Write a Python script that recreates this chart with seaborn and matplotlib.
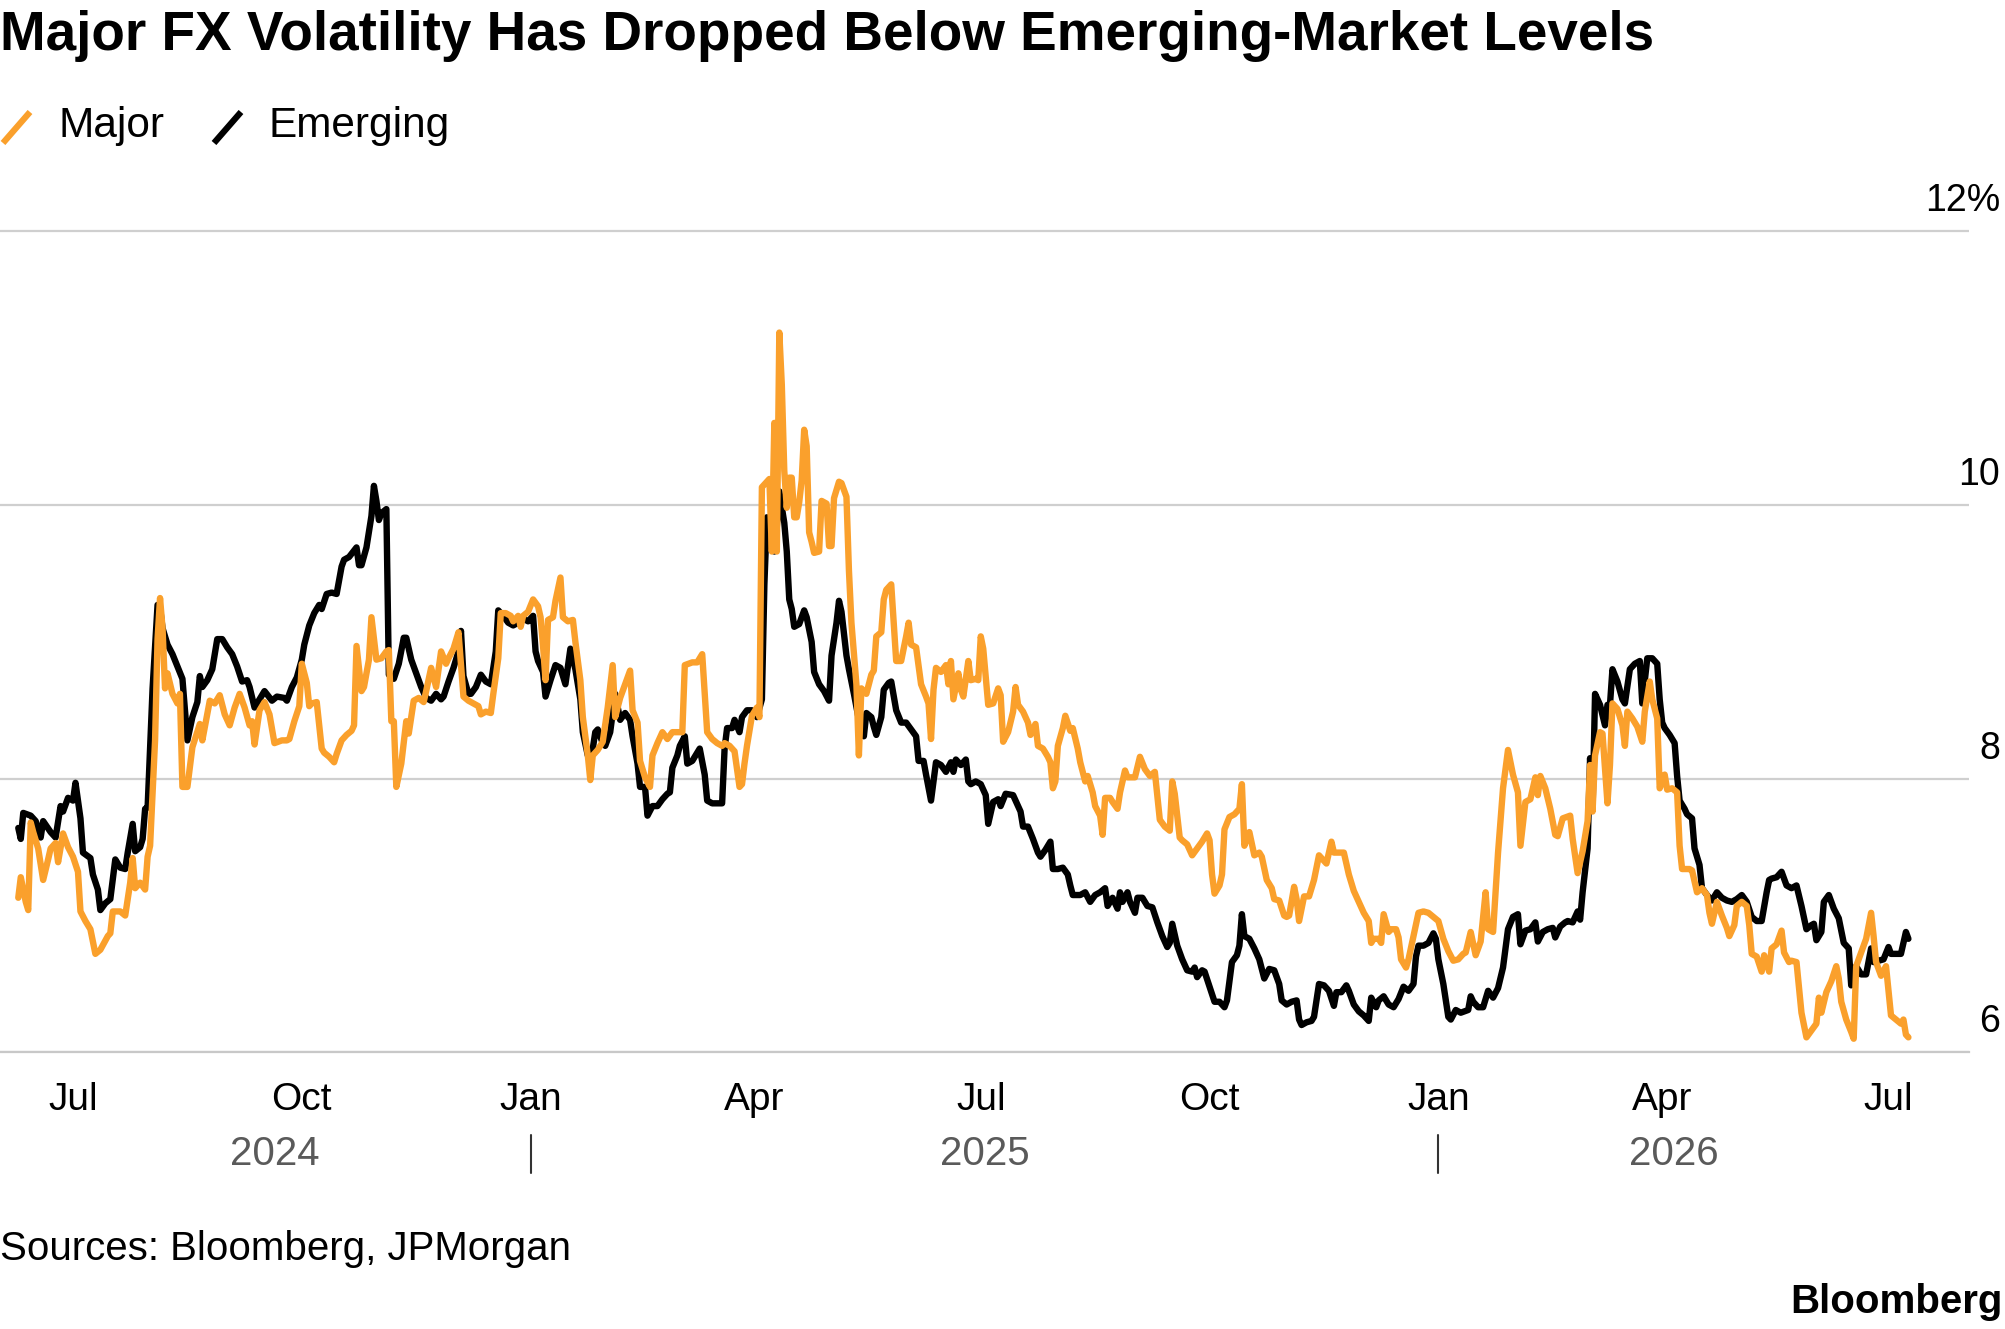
import pandas as pd
import matplotlib
matplotlib.use("Agg")
import matplotlib.pyplot as plt
import matplotlib.dates as mdates
import matplotlib.transforms as mtransforms
from matplotlib.lines import Line2D
import seaborn as sns

# FX implied volatility, %
# (day counted from 2024-07-01, value)
emerging = [
    (-22, 7.64), (-21, 7.56), (-20, 7.75), (-17, 7.73), (-15, 7.69), (-13, 7.57), (-12, 7.69), (-9, 7.61),
    (-7, 7.57), (-5, 7.80), (-4, 7.76), (-2, 7.86), (0, 7.84), (1, 7.97), (3, 7.71), (4, 7.46),
    (7, 7.42), (8, 7.30), (10, 7.19), (11, 7.04), (13, 7.09), (15, 7.12), (17, 7.41), (19, 7.35),
    (21, 7.34), (22, 7.46), (24, 7.67), (25, 7.47), (27, 7.50), (28, 7.56), (29, 7.78), (30, 7.79),
    (32, 8.66), (34, 9.27), (35, 9.25), (36, 9.10), (38, 8.98), (40, 8.91), (42, 8.82), (44, 8.73),
    (45, 8.50), (46, 8.28), (48, 8.45), (50, 8.56), (51, 8.75), (52, 8.67), (54, 8.72), (56, 8.80),
    (58, 9.02), (60, 9.02), (62, 8.96), (64, 8.91), (66, 8.82), (68, 8.71), (70, 8.72), (71, 8.67),
    (73, 8.52), (75, 8.58), (77, 8.64), (80, 8.57), (82, 8.60), (85, 8.59), (86, 8.57), (88, 8.67),
    (90, 8.74), (92, 8.87), (93, 8.98), (95, 9.12), (97, 9.21), (99, 9.27), (100, 9.24), (102, 9.35),
    (104, 9.36), (106, 9.35), (108, 9.55), (109, 9.60), (111, 9.62), (114, 9.69), (115, 9.56), (116, 9.56),
    (118, 9.69), (120, 9.92), (121, 10.14), (122, 10.03), (123, 9.89), (124, 9.94), (126, 9.97), (127, 8.76),
    (129, 8.73), (131, 8.84), (133, 9.03), (134, 9.03), (136, 8.87), (138, 8.77), (140, 8.67), (142, 8.59),
    (144, 8.57), (146, 8.62), (148, 8.58), (149, 8.60), (151, 8.71), (153, 8.81), (155, 8.93), (156, 9.08),
    (157, 8.75), (159, 8.62), (160, 8.62), (162, 8.67), (164, 8.76), (166, 8.71), (168, 8.69), (170, 8.93),
    (171, 9.23), (173, 9.19), (175, 9.14), (177, 9.12), (179, 9.14), (181, 9.17), (183, 9.15), (185, 9.19),
    (186, 8.93), (187, 8.86), (189, 8.78), (190, 8.60), (192, 8.72), (194, 8.83), (196, 8.81), (198, 8.69),
    (200, 8.95), (202, 8.80), (204, 8.58), (205, 8.34), (207, 8.17), (209, 8.22), (210, 8.34), (211, 8.36),
    (213, 8.26), (214, 8.24), (216, 8.34), (218, 8.62), (220, 8.43), (222, 8.48), (224, 8.43), (225, 8.31),
    (227, 8.11), (228, 7.94), (230, 7.94), (231, 7.73), (233, 7.80), (235, 7.80), (237, 7.85), (239, 7.89),
    (240, 7.90), (241, 8.08), (243, 8.17), (244, 8.24), (246, 8.31), (247, 8.11), (249, 8.13), (251, 8.19),
    (252, 8.22), (254, 8.03), (255, 7.84), (257, 7.82), (259, 7.82), (261, 7.82), (262, 8.22), (263, 8.37),
    (265, 8.37), (266, 8.43), (268, 8.34), (269, 8.45), (271, 8.50), (273, 8.50), (275, 8.45), (277, 8.58),
    (278, 9.42), (279, 9.91), (280, 9.70), (281, 9.89), (282, 9.66), (283, 9.84), (284, 10.10), (286, 9.87),
    (287, 9.66), (288, 9.31), (289, 9.24), (290, 9.11), (292, 9.13), (294, 9.23), (295, 9.18), (297, 9.00),
    (298, 8.78), (300, 8.69), (302, 8.64), (304, 8.57), (305, 8.90), (307, 9.14), (308, 9.30), (309, 9.22),
    (311, 8.90), (312, 8.80), (314, 8.62), (316, 8.43), (318, 8.31), (319, 8.48), (321, 8.45), (322, 8.38),
    (323, 8.32), (325, 8.45), (326, 8.65), (328, 8.70), (329, 8.71), (331, 8.50), (333, 8.41), (335, 8.41),
    (337, 8.36), (339, 8.31), (340, 8.13), (342, 8.13), (343, 8.03), (345, 7.84), (347, 8.12), (349, 8.10),
    (351, 8.05), (353, 8.12), (354, 8.05), (355, 8.14), (357, 8.10), (359, 8.14), (360, 7.98), (361, 7.96),
    (363, 7.98), (365, 7.96), (367, 7.88), (368, 7.67), (370, 7.83), (372, 7.85), (373, 7.80), (375, 7.89),
    (378, 7.88), (380, 7.80), (381, 7.76), (382, 7.65), (384, 7.65), (386, 7.56), (388, 7.46), (389, 7.43),
    (391, 7.48), (393, 7.54), (394, 7.34), (396, 7.34), (398, 7.35), (400, 7.30), (401, 7.22), (402, 7.15),
    (405, 7.15), (407, 7.17), (409, 7.10), (411, 7.15), (413, 7.17), (415, 7.20), (416, 7.07), (418, 7.13),
    (420, 7.05), (421, 7.17), (422, 7.10), (424, 7.17), (425, 7.10), (427, 7.02), (428, 7.13), (430, 7.13),
    (432, 7.07), (434, 7.06), (436, 6.95), (438, 6.85), (440, 6.77), (441, 6.80), (442, 6.94), (444, 6.78),
    (446, 6.68), (448, 6.60), (450, 6.59), (451, 6.62), (452, 6.55), (454, 6.60), (455, 6.59), (457, 6.48),
    (459, 6.37), (461, 6.37), (463, 6.33), (464, 6.38), (466, 6.66), (468, 6.71), (469, 6.78), (470, 7.01),
    (471, 6.85), (473, 6.83), (475, 6.76), (477, 6.68), (479, 6.54), (481, 6.61), (483, 6.60), (485, 6.50),
    (486, 6.38), (488, 6.35), (490, 6.37), (492, 6.38), (493, 6.24), (494, 6.20), (496, 6.22), (498, 6.23),
    (499, 6.26), (501, 6.50), (503, 6.49), (505, 6.45), (507, 6.34), (508, 6.44), (510, 6.44), (512, 6.49),
    (513, 6.45), (515, 6.35), (517, 6.30), (519, 6.27), (521, 6.23), (522, 6.40), (524, 6.33), (525, 6.38),
    (527, 6.41), (529, 6.35), (531, 6.33), (533, 6.39), (535, 6.48), (537, 6.45), (539, 6.50), (540, 6.70),
    (541, 6.78), (543, 6.78), (545, 6.80), (547, 6.87), (548, 6.83), (549, 6.68), (551, 6.50), (553, 6.26),
    (554, 6.24), (556, 6.31), (558, 6.29), (561, 6.31), (562, 6.41), (563, 6.37), (565, 6.33), (567, 6.33),
    (569, 6.45), (571, 6.40), (573, 6.47), (575, 6.62), (577, 6.90), (579, 6.99), (581, 7.01), (582, 6.79),
    (584, 6.89), (586, 6.90), (588, 6.95), (589, 6.81), (591, 6.88), (593, 6.90), (595, 6.91), (596, 6.84),
    (598, 6.92), (600, 6.95), (601, 6.96), (603, 6.95), (605, 7.03), (606, 6.97), (607, 7.17), (609, 7.49),
    (610, 8.15), (611, 7.77), (612, 8.62), (614, 8.54), (616, 8.39), (617, 8.54), (618, 8.54), (619, 8.80),
    (621, 8.71), (623, 8.58), (624, 8.55), (626, 8.80), (628, 8.84), (630, 8.86), (631, 8.55), (633, 8.88),
    (635, 8.88), (637, 8.84), (638, 8.58), (639, 8.41), (640, 8.37), (642, 8.32), (644, 8.26), (645, 8.02),
    (646, 7.84), (648, 7.78), (649, 7.74), (651, 7.71), (652, 7.49), (654, 7.37), (655, 7.20), (657, 7.15),
    (659, 7.11), (661, 7.17), (663, 7.13), (665, 7.11), (667, 7.10), (669, 7.12), (671, 7.15), (673, 7.10),
    (675, 6.99), (677, 6.96), (679, 6.96), (681, 7.17), (682, 7.26), (683, 7.27), (685, 7.28), (687, 7.32),
    (689, 7.22), (691, 7.20), (693, 7.22), (695, 7.07), (697, 6.90), (699, 6.93), (700, 6.94), (701, 6.82),
    (703, 6.88), (704, 7.10), (706, 7.15), (708, 7.05), (710, 6.98), (712, 6.80), (714, 6.76), (715, 6.49),
    (717, 6.63), (719, 6.57), (721, 6.57), (723, 6.76), (724, 6.66), (726, 6.67), (728, 6.68), (730, 6.77),
    (731, 6.72), (733, 6.72), (735, 6.72), (737, 6.88), (738, 6.83),
]

major = [
    (-22, 7.13), (-21, 7.28), (-19, 7.10), (-18, 7.04), (-17, 7.68), (-16, 7.61), (-14, 7.49), (-12, 7.26),
    (-10, 7.41), (-9, 7.49), (-7, 7.53), (-6, 7.39), (-4, 7.60), (-2, 7.50), (0, 7.43), (2, 7.32),
    (3, 7.03), (5, 6.96), (7, 6.90), (9, 6.72), (11, 6.75), (14, 6.85), (15, 6.87), (16, 7.03),
    (19, 7.03), (21, 7.00), (23, 7.24), (24, 7.42), (25, 7.20), (27, 7.24), (29, 7.19), (30, 7.43),
    (31, 7.51), (33, 8.28), (34, 9.02), (35, 9.32), (36, 9.10), (37, 8.66), (38, 8.77), (40, 8.62),
    (42, 8.55), (43, 8.62), (44, 7.94), (46, 7.94), (48, 8.23), (51, 8.40), (52, 8.28), (55, 8.57),
    (57, 8.55), (59, 8.61), (61, 8.47), (63, 8.39), (65, 8.52), (67, 8.62), (69, 8.52), (71, 8.39),
    (72, 8.42), (73, 8.25), (75, 8.50), (77, 8.56), (79, 8.47), (81, 8.26), (84, 8.28), (86, 8.28),
    (87, 8.29), (89, 8.42), (91, 8.53), (92, 8.84), (94, 8.70), (95, 8.53), (96, 8.55), (98, 8.56),
    (100, 8.22), (101, 8.19), (103, 8.16), (105, 8.12), (106, 8.18), (108, 8.28), (110, 8.32), (112, 8.35),
    (113, 8.39), (114, 8.97), (116, 8.64), (117, 8.67), (119, 8.87), (120, 9.18), (122, 8.87), (124, 8.88),
    (126, 8.93), (127, 8.94), (128, 8.42), (129, 8.42), (130, 7.94), (132, 8.11), (134, 8.42), (135, 8.33),
    (137, 8.57), (139, 8.59), (141, 8.56), (142, 8.64), (144, 8.81), (146, 8.67), (148, 8.93), (150, 8.84),
    (151, 8.88), (153, 8.95), (155, 9.07), (157, 8.60), (159, 8.57), (161, 8.55), (163, 8.53), (164, 8.47),
    (166, 8.49), (168, 8.48), (169, 8.62), (171, 8.88), (172, 9.21), (174, 9.21), (176, 9.19), (177, 9.15),
    (179, 9.19), (180, 9.11), (181, 9.19), (183, 9.22), (185, 9.31), (187, 9.26), (188, 9.18), (189, 8.97),
    (190, 8.72), (191, 9.16), (193, 9.18), (194, 9.30), (196, 9.47), (197, 9.18), (199, 9.15), (201, 9.16),
    (202, 9.00), (204, 8.72), (205, 8.45), (207, 8.17), (208, 7.99), (209, 8.17), (211, 8.21), (213, 8.27),
    (215, 8.52), (217, 8.83), (218, 8.45), (220, 8.59), (222, 8.69), (224, 8.79), (225, 8.50), (227, 8.41),
    (228, 8.13), (230, 8.01), (232, 7.94), (233, 8.17), (235, 8.26), (237, 8.34), (239, 8.29), (241, 8.34),
    (244, 8.34), (245, 8.34), (246, 8.83), (249, 8.85), (251, 8.85), (253, 8.91), (254, 8.62), (255, 8.34),
    (257, 8.29), (259, 8.26), (261, 8.24), (262, 8.26), (264, 8.24), (266, 8.20), (268, 7.94), (269, 7.96),
    (270, 8.11), (271, 8.24), (273, 8.46), (275, 8.52), (276, 8.45), (277, 10.13), (279, 10.17), (280, 10.19),
    (281, 9.66), (282, 10.60), (283, 9.66), (284, 11.26), (285, 10.88), (286, 10.25), (287, 9.98), (288, 10.20),
    (289, 10.20), (290, 9.91), (291, 9.91), (292, 10.02), (293, 10.18), (294, 10.55), (295, 10.43), (296, 9.80),
    (297, 9.73), (298, 9.65), (300, 9.66), (301, 10.03), (303, 10.01), (304, 9.70), (305, 9.70), (306, 10.05),
    (308, 10.17), (309, 10.16), (311, 10.06), (312, 9.52), (313, 9.14), (315, 8.69), (316, 8.17), (317, 8.66),
    (319, 8.62), (321, 8.76), (322, 8.79), (323, 9.04), (325, 9.07), (326, 9.31), (327, 9.38), (329, 9.42),
    (331, 8.86), (333, 8.86), (335, 9.04), (336, 9.14), (337, 8.98), (339, 8.96), (341, 8.69), (343, 8.60),
    (344, 8.55), (345, 8.29), (346, 8.65), (347, 8.81), (349, 8.78), (351, 8.83), (352, 8.69), (353, 8.86),
    (354, 8.58), (356, 8.77), (357, 8.65), (358, 8.60), (360, 8.86), (361, 8.72), (363, 8.73), (364, 8.72),
    (365, 9.04), (366, 8.95), (368, 8.54), (370, 8.55), (372, 8.66), (373, 8.61), (374, 8.27), (376, 8.34),
    (378, 8.49), (379, 8.67), (380, 8.54), (382, 8.49), (384, 8.41), (385, 8.32), (387, 8.40), (388, 8.24),
    (390, 8.22), (392, 8.16), (393, 8.12), (394, 7.93), (395, 7.98), (396, 8.24), (398, 8.37), (399, 8.46),
    (401, 8.35), (402, 8.37), (404, 8.22), (405, 8.12), (407, 7.98), (408, 8.02), (410, 7.90), (411, 7.80),
    (413, 7.73), (414, 7.59), (415, 7.86), (417, 7.86), (418, 7.83), (420, 7.78), (421, 7.90), (423, 8.06),
    (424, 8.01), (427, 8.01), (429, 8.16), (431, 8.07), (433, 8.02), (435, 8.05), (437, 7.70), (439, 7.65),
    (441, 7.62), (442, 7.98), (443, 7.89), (445, 7.57), (446, 7.55), (448, 7.52), (450, 7.44), (452, 7.49),
    (454, 7.54), (456, 7.60), (457, 7.55), (458, 7.30), (459, 7.16), (461, 7.22), (462, 7.30), (463, 7.63),
    (465, 7.72), (467, 7.74), (469, 7.78), (470, 7.96), (471, 7.51), (473, 7.61), (475, 7.44), (477, 7.46),
    (478, 7.43), (480, 7.26), (482, 7.20), (483, 7.12), (485, 7.11), (487, 7.00), (488, 6.99), (489, 7.00),
    (491, 7.21), (492, 7.12), (493, 6.96), (495, 7.14), (497, 7.14), (499, 7.26), (501, 7.44), (503, 7.40),
    (504, 7.38), (506, 7.54), (507, 7.46), (509, 7.46), (511, 7.46), (513, 7.30), (515, 7.18), (517, 7.10),
    (519, 7.02), (521, 6.96), (522, 6.80), (523, 6.83), (525, 6.83), (526, 6.80), (527, 7.01), (529, 6.88),
    (530, 6.90), (532, 6.90), (533, 6.84), (534, 6.68), (536, 6.62), (537, 6.68), (539, 6.85), (541, 7.02),
    (543, 7.03), (545, 7.02), (547, 6.99), (549, 6.96), (551, 6.83), (553, 6.74), (555, 6.67), (557, 6.68),
    (559, 6.72), (560, 6.73), (562, 6.88), (564, 6.71), (566, 6.81), (568, 7.17), (569, 6.90), (571, 6.88),
    (573, 7.46), (575, 7.93), (577, 8.21), (579, 8.03), (581, 7.90), (582, 7.51), (584, 7.83), (586, 7.85),
    (588, 8.01), (589, 7.88), (590, 8.02), (592, 7.93), (594, 7.78), (596, 7.59), (597, 7.58), (599, 7.71),
    (602, 7.73), (603, 7.56), (605, 7.31), (607, 7.47), (609, 7.69), (610, 8.10), (611, 7.76), (612, 8.17),
    (614, 8.34), (615, 8.33), (617, 7.82), (618, 8.10), (619, 8.55), (621, 8.51), (623, 8.39), (624, 8.24),
    (625, 8.49), (627, 8.44), (629, 8.38), (631, 8.27), (632, 8.49), (634, 8.71), (635, 8.58), (637, 8.44),
    (638, 7.93), (640, 8.03), (641, 7.92), (643, 7.93), (645, 7.90), (646, 7.51), (647, 7.34), (648, 7.34),
    (650, 7.34), (651, 7.33), (653, 7.17), (655, 7.20), (657, 7.15), (658, 7.02), (659, 6.94), (661, 7.10),
    (663, 7.00), (665, 6.91), (666, 6.85), (668, 6.93), (669, 7.07), (671, 7.10), (673, 7.07), (674, 6.93),
    (675, 6.72), (677, 6.70), (679, 6.59), (680, 6.71), (682, 6.59), (683, 6.76), (685, 6.79), (687, 6.89),
    (688, 6.73), (690, 6.66), (691, 6.67), (693, 6.66), (695, 6.29), (697, 6.11), (699, 6.16), (701, 6.21),
    (702, 6.40), (703, 6.29), (705, 6.44), (707, 6.52), (709, 6.63), (710, 6.54), (711, 6.37), (713, 6.24),
    (715, 6.15), (716, 6.10), (717, 6.63), (719, 6.73), (721, 6.83), (723, 7.02), (724, 6.85), (725, 6.66),
    (727, 6.56), (729, 6.63), (731, 6.27), (733, 6.24), (735, 6.21), (736, 6.24), (737, 6.13), (738, 6.11),
]

y_ticks = [6, 8, 10, 12]
y_labels = ["6", "8", "10", "12%"]
years = [2024, 2025, 2026]

ORANGE = "#faa02c"
start = pd.Timestamp("2024-07-01")


def to_frame(pairs):
    df = pd.DataFrame(pairs, columns=["day", "vol"])
    df["date"] = start + pd.to_timedelta(df["day"], unit="D")
    return df


df_em = to_frame(emerging)
df_mj = to_frame(major)

sns.set_style("white")
plt.rcParams["font.family"] = ["Liberation Sans", "DejaVu Sans"]
plt.rcParams["text.color"] = "black"

W, H = 2005, 1329
fig = plt.figure(figsize=(W / 100, H / 100), dpi=100)

# plot box in pixels: y=6 sits at 1052 px, 136.85 px per vol point
bottom_px = 1052.4
unit_px = 136.85
y_lo, y_hi = 6, 12.3
ax = fig.add_axes([0, 1 - bottom_px / H, 1969 / W, (y_hi - y_lo) * unit_px / H])

sns.lineplot(data=df_em, x="date", y="vol", color="black", linewidth=4.6, ax=ax, legend=False)
sns.lineplot(data=df_mj, x="date", y="vol", color=ORANGE, linewidth=4.6, ax=ax, legend=False)

px_day = 2.487
ax.set_xlim(start - pd.Timedelta(days=73 / px_day), start + pd.Timedelta(days=(1969 - 73) / px_day))
ax.set_ylim(y_lo, y_hi)
ax.set_xlabel("")
ax.set_ylabel("")

# grid + axis
ax.set_yticks(y_ticks)
ax.yaxis.grid(True, color="#cfcfcf", lw=1.6)
ax.set_axisbelow(True)
ax.tick_params(axis="y", length=0, labelleft=False)
for s in ["top", "left", "right"]:
    ax.spines[s].set_visible(False)
ax.spines["bottom"].set_color("#c8c8c8")
ax.spines["bottom"].set_linewidth(1.6)

for v, lab in zip(y_ticks, y_labels):
    ax.annotate(lab, xy=(2000 / W, v), xycoords=("figure fraction", "data"),
                xytext=(0, 14.4), textcoords="offset points", color="black",
                ha="right", va="baseline", fontsize=27, annotation_clip=False)

# month ticks
ax.xaxis.set_major_locator(mdates.MonthLocator(bymonth=[1, 4, 7, 10]))
ax.xaxis.set_major_formatter(mdates.DateFormatter("%b"))
ax.xaxis.set_minor_locator(mdates.MonthLocator())
ax.tick_params(axis="x", which="major", length=13, width=1.5, color="black",
               labelsize=28, pad=8, labelcolor="black")
ax.tick_params(axis="x", which="minor", length=7, width=1.5, color="#cccccc")

# year row under the months
blend = mtransforms.blended_transform_factory(ax.transData, fig.transFigure)
first, last = df_mj["date"].min(), df_mj["date"].max()
for yr in years:
    lo = max(first, pd.Timestamp(f"{yr}-01-01"))
    hi = min(last, pd.Timestamp(f"{yr + 1}-01-01"))
    ax.text(lo + (hi - lo) / 2, 1 - 1165 / H, str(yr), transform=blend,
            ha="center", va="baseline", fontsize=29, color="#5a5a5a")
for yr in years[1:]:
    jan = pd.Timestamp(f"{yr}-01-01")
    ax.plot([jan, jan], [1 - 1135 / H, 1 - 1173 / H], transform=blend,
            color="#333333", lw=1.5, clip_on=False)

# title and legend
fig.text(0, 1 - 50 / H, "Major FX Volatility Has Dropped Below Emerging-Market Levels",
         fontsize=39.5, fontweight="bold", ha="left", va="baseline", color="black")

fig.add_artist(Line2D([3 / W, 30 / W], [1 - 143 / H, 1 - 112 / H], color=ORANGE, lw=4.5,
                      solid_capstyle="butt"))
fig.text(59 / W, 1 - 137 / H, "Major", fontsize=30.5, va="baseline", color="black")
fig.add_artist(Line2D([214 / W, 241 / W], [1 - 143 / H, 1 - 112 / H], color="black", lw=4.5,
                      solid_capstyle="butt"))
fig.text(268 / W, 1 - 137 / H, "Emerging", fontsize=30.5, va="baseline", color="black")

# footer
fig.text(0, 1 - 1260 / H, "Sources: Bloomberg, JPMorgan", fontsize=29, va="baseline", color="black")
fig.text(2003 / W, 1 - 1313 / H, "Bloomberg", fontsize=29, fontweight="bold",
         ha="right", va="baseline", color="black")

fig.savefig("out.png", dpi=100)
